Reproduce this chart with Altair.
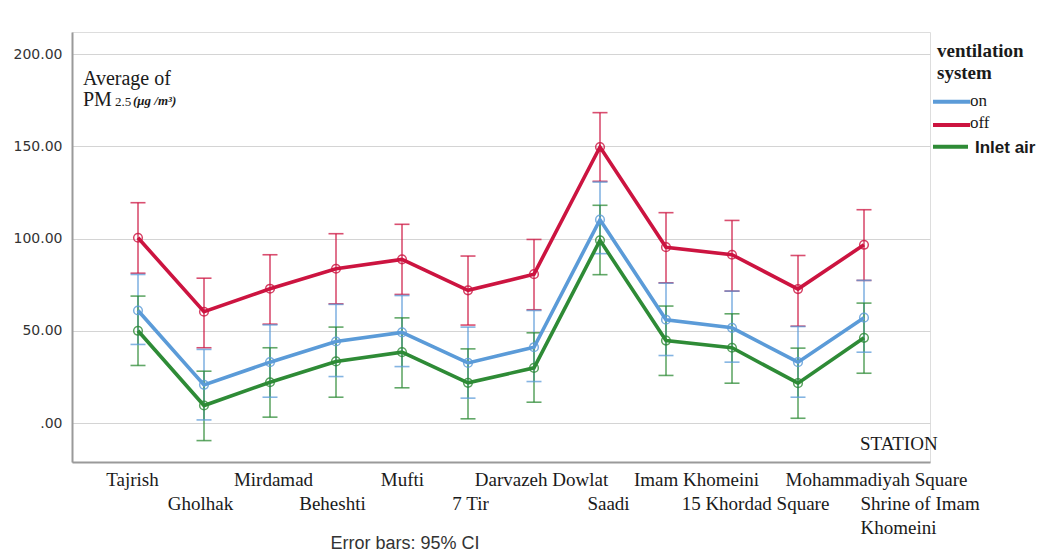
import altair as alt
import pandas as pd

STATIONS = ["Tajrish", "Gholhak", "Mirdamad", "Beheshti", "Mufti", "7 Tir",
            "Darvazeh Dowlat", "Saadi", "Imam Khomeini", "15 Khordad Square",
            "Mohammadiyah Square", "Shrine of Imam Khomeini"]
SERIES = ["on", "off", "Inlet air"]
COLORS = ["#5b9bd8", "#cc1440", "#2e8b36"]

on_mean = [61.1, 20.8, 33.1, 44.3, 49.2, 32.7, 41.2, 110.3, 56.1, 51.7, 33.1, 57.2]
on_lo = [42.7, 1.8, 14.1, 25.3, 30.7, 13.6, 22.6, 91.9, 36.7, 33.1, 14.1, 38.5]
on_hi = [80.6, 40.0, 53.3, 64.4, 69.2, 52.1, 61.1, 130.7, 75.9, 71.6, 52.4, 77.4]

off_mean = [100.5, 60.4, 72.9, 83.7, 88.8, 72.0, 80.8, 149.7, 95.4, 91.3, 72.7, 96.7]
off_lo = [81.3, 40.9, 53.7, 64.7, 69.8, 53.2, 61.5, 131.1, 76.1, 71.6, 52.6, 77.4]
off_hi = [119.5, 78.6, 91.3, 102.7, 107.8, 90.6, 99.6, 168.3, 114.1, 109.9, 90.9, 115.7]

inlet_mean = [50.1, 9.6, 22.2, 33.5, 38.5, 21.9, 30.0, 99.1, 44.8, 40.9, 21.7, 46.3]
inlet_lo = [31.3, -9.4, 3.3, 14.1, 19.2, 2.4, 11.4, 80.5, 25.9, 21.7, 2.7, 27.1]
inlet_hi = [68.9, 28.2, 40.9, 52.1, 57.1, 40.3, 49.0, 118.1, 63.5, 59.3, 40.7, 65.1]

Y_TICKS = [0, 50, 100, 150, 200]

rows = []
for name, m, lo, hi in [("on", on_mean, on_lo, on_hi),
                        ("off", off_mean, off_lo, off_hi),
                        ("Inlet air", inlet_mean, inlet_lo, inlet_hi)]:
    for s, a, b, c in zip(STATIONS, m, lo, hi):
        rows.append({"station": s, "series": name, "mean": a, "lo": b, "hi": c})
df = pd.DataFrame(rows)

# label layout (staggered rows as in the original)
bottom_row = STATIONS[1::2]
last = STATIONS[-1]
label_expr = (
    f"datum.value == '{last}' ? ['', 'Shrine of Imam', 'Khomeini'] : "
    f"(indexof({bottom_row[:-1]!r}, datum.value) >= 0 ? ['', datum.value] : datum.value)"
)
offsets = {"Tajrish": -6, "Gholhak": -4, "Mirdamad": 3, "Beheshti": -4, "7 Tir": 2,
           "Darvazeh Dowlat": 7, "Saadi": 8, "Imam Khomeini": 30,
           "15 Khordad Square": 23, "Mohammadiyah Square": 78, last: -4}
label_offset = {
    "condition": [{"test": f"datum.value == '{k}'", "value": v} for k, v in offsets.items()],
    "value": 0,
}

x_enc = alt.X(
    "station:N", sort=STATIONS, title=None,
    scale=alt.Scale(type="point", padding=1.16),
    axis=alt.Axis(
        labelExpr=label_expr, labelFont="Liberation Serif", labelFontSize=19,
        labelColor="#1a1a1a", labelAngle=0, labelBaseline="top", labelPadding=8,
        labelLineHeight=24, labelOverlap=False, labelBound=False, labelFlush=False,
        labelLimit=0, labelOffset=label_offset,
        labelAlign={"condition": {"test": f"datum.value == '{last}'", "value": "left"}, "value": "center"},
        ticks=False, domainColor="#9a9a9a", domainWidth=2, grid=False,
    ),
)
y_scale = alt.Scale(domain=[-21, 212], nice=False, zero=False)
y_enc = alt.Y(
    "mean:Q", scale=y_scale, title=None,
    axis=alt.Axis(
        values=Y_TICKS, grid=True, gridColor="#d4d4d4", gridWidth=1,
        labelExpr="datum.value == 0 ? '.00' : format(datum.value, '.2f')",
        labelFont="DejaVu Sans", labelFontSize=14, labelColor="#333333",
        labelPadding=10, ticks=False, domainColor="#9a9a9a", domainWidth=2,
        minExtent=59, maxExtent=59,
    ),
)
color = alt.Color("series:N", scale=alt.Scale(domain=SERIES, range=COLORS), legend=None)

base = alt.Chart(df)
bars = base.mark_rule(strokeWidth=1.6, opacity=0.75).encode(
    x=x_enc, y=alt.Y("lo:Q", scale=y_scale), y2="hi:Q", color=color)
cap_lo = base.mark_tick(size=15, thickness=1.6, opacity=0.75).encode(
    x=x_enc, y=alt.Y("lo:Q", scale=y_scale), color=color)
cap_hi = base.mark_tick(size=15, thickness=1.6, opacity=0.75).encode(
    x=x_enc, y=alt.Y("hi:Q", scale=y_scale), color=color)
lines = base.mark_line(strokeWidth=3.6).encode(
    x=x_enc, y=y_enc, color=color, detail="series:N")
points = base.mark_point(filled=False, size=75, strokeWidth=1.5, opacity=0.8).encode(
    x=x_enc, y=alt.Y("mean:Q", scale=y_scale), color=color)

one = alt.Data(values=[{}])


def txt(text, x, y, **kw):
    return alt.Chart(one).mark_text(text=text, **kw).encode(x=alt.value(x), y=alt.value(y))


def seg(x1, x2, y, col):
    return alt.Chart(one).mark_rule(strokeWidth=4, color=col).encode(
        x=alt.value(x1), x2=alt.value(x2), y=alt.value(y))


serif = "Liberation Serif"
texts = [
    txt("Average of", 11, 53, font=serif, fontSize=20, align="left", baseline="alphabetic", color="#1a1a1a"),
    txt("PM", 11, 74, font=serif, fontSize=20, align="left", baseline="alphabetic", color="#1a1a1a"),
    txt("2.5", 43, 74, font=serif, fontSize=13, align="left", baseline="alphabetic", color="#1a1a1a"),
    txt("(\u03bcg  /m\u00b3)", 61, 73, font=serif, fontSize=13, fontStyle="italic", fontWeight="bold",
        align="left", baseline="alphabetic", color="#1a1a1a"),
    txt("STATION", 788, 418, font=serif, fontSize=19, align="left", baseline="alphabetic", color="#1a1a1a"),
    txt("Error bars: 95% CI", 333, 512, font="Liberation Sans", fontSize=18, align="center",
        baseline="middle", color="#333333"),
    txt("ventilation", 865, 25, font=serif, fontSize=19, fontWeight="bold", align="left",
        baseline="alphabetic", color="#1a1a1a"),
    txt("system", 865, 47, font=serif, fontSize=19, fontWeight="bold", align="left",
        baseline="alphabetic", color="#1a1a1a"),
    seg(861, 898, 69.7, COLORS[0]),
    seg(861, 898, 93, COLORS[1]),
    seg(861, 896, 114.7, COLORS[2]),
    txt(SERIES[0], 898, 69, font=serif, fontSize=17, align="left", baseline="middle", color="#1a1a1a"),
    txt(SERIES[1], 898, 91, font=serif, fontSize=17, align="left", baseline="middle", color="#1a1a1a"),
    txt(SERIES[2], 903, 116, font="Liberation Sans", fontSize=17, fontWeight="bold", align="left",
        baseline="middle", color="#1a1a1a"),
]

chart = alt.layer(bars, cap_lo, cap_hi, lines, points, *texts).properties(
    width=858, height=430,
    autosize=alt.AutoSizeParams(type="none"),
    padding={"left": 64, "top": 24, "right": 111, "bottom": 92},
).configure_view(stroke=None).configure(background="white")

chart.save("out.html", embed_options={"renderer": "svg", "actions": False})
